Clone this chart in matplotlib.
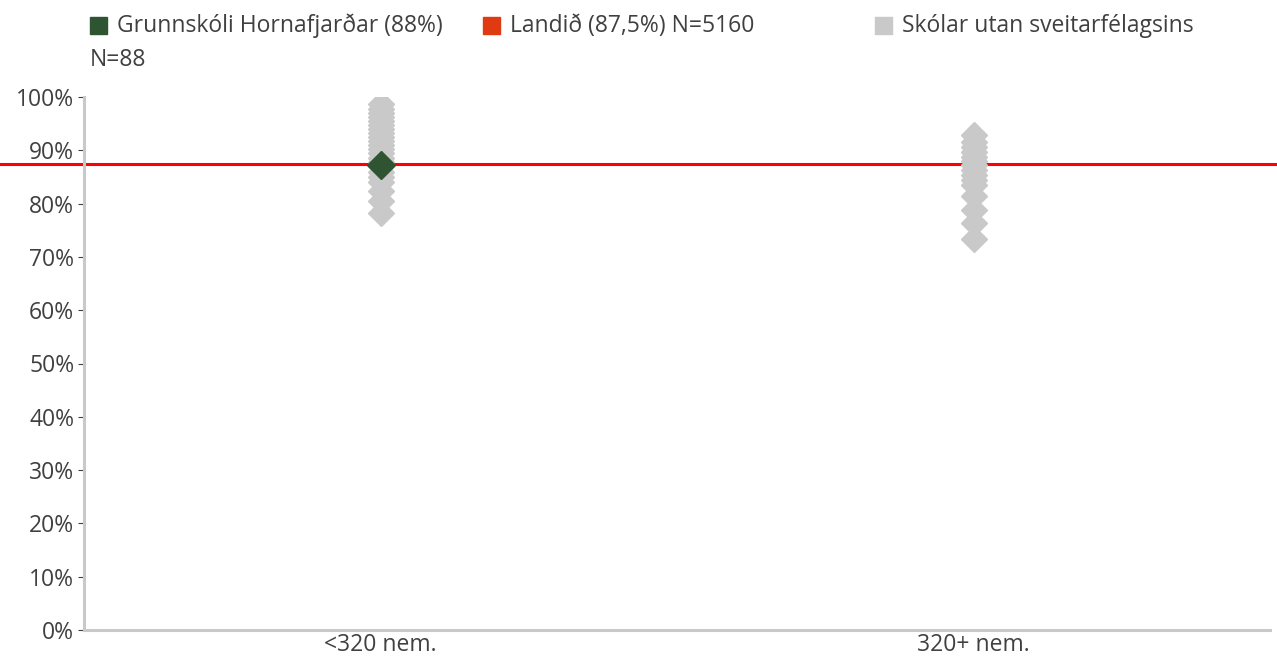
import matplotlib
matplotlib.use("Agg")
import matplotlib.pyplot as plt
from matplotlib.transforms import blended_transform_factory
from matplotlib.patches import Rectangle

# categories on the x axis
categories = ["<320 nem.", "320+ nem."]

# other schools (grey diamonds), percent
others_small = [98.7, 97.8, 97.0, 96.2, 95.5, 94.8, 94.0, 93.3, 92.5, 91.7,
                91.0, 90.2, 89.4, 88.6, 87.8, 87.0, 86.0, 85.0, 84.0, 82.3,
                80.4, 78.2]
others_large = [92.8, 91.6, 90.6, 89.7, 88.8, 88.0, 87.2, 86.3, 85.4, 84.5,
                83.4, 81.5, 78.8, 76.3, 73.4]

# the school itself and the national value
school_cat = 0
school_value = 87.3
national_value = 87.5

ytick_vals = list(range(0, 101, 10))
ytick_labels = [f"{v}%" for v in ytick_vals]

GREEN = "#2E5432"
RED_LINE = "#FF0000"
RED_SQ = "#E03A12"
GREY = "#C9C9C9"
TEXT = "#404040"
FS = 16.5

plt.rcParams['font.family'] = ['Open Sans', 'DejaVu Sans']

fig = plt.figure(figsize=(12.77, 6.59), dpi=100)
ax = fig.add_axes([84 / 1277, 29 / 659, (1270 - 84) / 1277, (630 - 97) / 659])

# grey diamonds for other schools
ax.plot([0] * len(others_small), others_small, linestyle="none", marker="D",
        markersize=13.5, color=GREY, zorder=3)
ax.plot([1] * len(others_large), others_large, linestyle="none", marker="D",
        markersize=13.5, color=GREY, zorder=3)

# national average line, runs across the whole figure
trans = blended_transform_factory(fig.transFigure, ax.transData)
ax.plot([0, 1], [national_value, national_value], color=RED_LINE, lw=2.2,
        transform=trans, clip_on=False, zorder=2)

# the school
ax.plot([school_cat], [school_value], linestyle="none", marker="D",
        markersize=14, color=GREEN, zorder=4)

ax.set_xlim(-0.5, 1.5)
ax.set_ylim(0, 100)
ax.set_xticks(range(len(categories)))
ax.set_xticklabels(categories)
ax.set_yticks(ytick_vals)
ax.set_yticklabels(ytick_labels)

for s in ["top", "right"]:
    ax.spines[s].set_visible(False)
for s in ["left", "bottom"]:
    ax.spines[s].set_color(GREY)
    ax.spines[s].set_linewidth(2.2)

ax.tick_params(axis="y", colors=TEXT, labelsize=FS, length=4, width=0.8, pad=3)
ax.tick_params(axis="x", colors=TEXT, labelsize=FS, length=0, pad=2)

# legend drawn by hand
def legend_item(x_px, y_px, color, text):
    fig.add_artist(Rectangle((x_px / 1277, (659 - y_px - 8) / 659), 17 / 1277, 17 / 659,
                             transform=fig.transFigure, color=color))
    fig.text((x_px + 27) / 1277, (659 - y_px) / 659, text, fontsize=FS,
             color=TEXT, va="center", ha="left")

legend_item(90, 26, GREEN, "Grunnskóli Hornafjarðar (88%)")
fig.text(90 / 1277, (659 - 60) / 659, "N=88", fontsize=FS, color=TEXT,
         va="center", ha="left")
legend_item(483, 26, RED_SQ, "Landið (87,5%) N=5160")
legend_item(875, 26, GREY, "Skólar utan sveitarfélagsins")

fig.savefig("out.png", dpi=100)
